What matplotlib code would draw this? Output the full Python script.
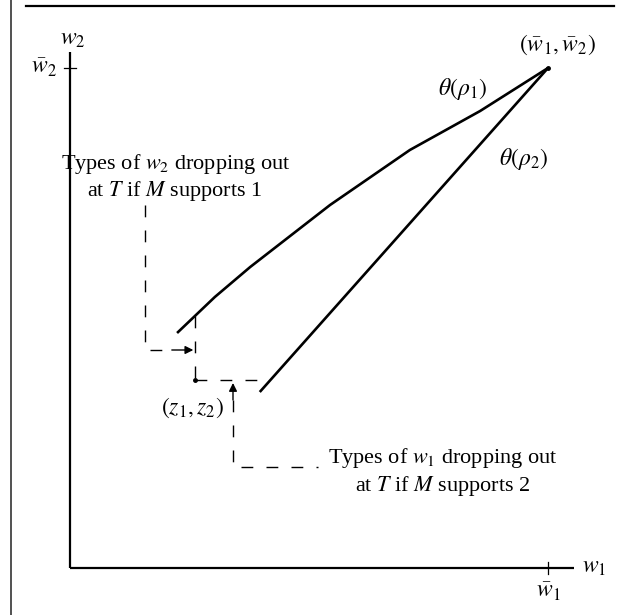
import matplotlib
matplotlib.use("Agg")
import matplotlib.pyplot as plt
from matplotlib.lines import Line2D

plt.rcParams['font.family'] = ['Liberation Serif', 'DejaVu Serif']
plt.rcParams['mathtext.fontset'] = 'stix'

# diagram in units where (w1_bar, w2_bar) = (1, 1)
w1_bar = 1.0
w2_bar = 1.0

rho1_w1 = [0.224, 0.303, 0.377, 0.544, 0.711, 0.858, 1.0]
rho1_w2 = [0.470, 0.542, 0.602, 0.726, 0.836, 0.914, 1.0]

# theta(rho_2): straight boundary
rho2_w1 = [0.397, 1.0]
rho2_w2 = [0.352, 1.0]

# (z1, z2) corner
z1, z2 = 0.262, 0.376
z1_top = 0.505      # where w1 = z1 meets theta(rho_1)
z2_right = 0.419    # where w2 = z2 meets theta(rho_2)

# callout brackets
bracket1_w1 = [0.157, 0.157, 0.213]
bracket1_w2 = [0.726, 0.436, 0.436]
bracket2_w1 = [0.341, 0.341, 0.519]
bracket2_w2 = [0.336, 0.202, 0.202]

fig = plt.figure(figsize=(6.26, 6.15), dpi=100)
ax = fig.add_axes([0, 0, 1, 1])
ax.set_xlim(-70 / 478, 556 / 478)
ax.set_ylim(-47 / 500, 568 / 500)
ax.axis('off')

# page rules
fig.add_artist(Line2D([11 / 626, 11 / 626], [0, 1], color='#333333', lw=1.2))
fig.add_artist(Line2D([26 / 626, 614 / 626], [1 - 6 / 615, 1 - 6 / 615], color='black', lw=1.6))

# axes
ax.plot([0, 1.055], [0, 0], color='black', lw=1.6, solid_capstyle='butt')
ax.plot([0, 0], [0, 1.032], color='black', lw=1.6, solid_capstyle='butt')
ax.plot([w1_bar, w1_bar], [-0.012, 0.012], color='black', lw=0.9)
ax.plot([-0.012, 0.012], [w2_bar, w2_bar], color='black', lw=0.9)

fs = 16
ax.text(1.072, 0.0, r'$w_1$', fontsize=fs + 1, ha='left', va='center')
ax.text(w1_bar, -0.047, r'$\bar{w}_1$', fontsize=fs + 1, ha='center', va='center')
ax.text(0.005, 1.057, r'$w_2$', fontsize=fs + 1, ha='center', va='center')
ax.text(-0.028, w2_bar, r'$\bar{w}_2$', fontsize=fs + 1, ha='right', va='center')

# boundaries
ax.plot(rho1_w1, rho1_w2, color='black', lw=1.9, solid_capstyle='butt')
ax.plot(rho2_w1, rho2_w2, color='black', lw=1.9, solid_capstyle='butt')
ax.plot([w1_bar], [w2_bar], 'o', color='black', ms=2.5)

ax.text(1.02, 1.047, r'$(\bar{w}_1, \bar{w}_2)$', fontsize=fs + 1, ha='center', va='center')
ax.text(0.822, 0.958, r'$\theta(\rho_1)$', fontsize=fs + 1, ha='center', va='center')
ax.text(0.948, 0.818, r'$\theta(\rho_2)$', fontsize=fs + 1, ha='center', va='center')

# dashed corner at (z1, z2)
dash = dict(color='black', lw=1.0, linestyle=(0, (8.5, 9.5)))
ax.plot([z1, z1], [z1_top, z2], **dash)
ax.plot([z1, z2_right], [z2, z2], **dash)
ax.plot([z1], [z2], 'o', color='black', ms=2.5)
ax.text(z1 - 0.005, z2 - 0.056, r'$(z_1, z_2)$', fontsize=fs + 1, ha='center', va='center')

# callouts
ax.plot(bracket1_w1, bracket1_w2, **dash)
ax.plot(bracket2_w1, bracket2_w2, **dash)
ax.annotate('', xy=(z1 - 0.004, bracket1_w2[-1]), xytext=(bracket1_w1[-1], bracket1_w2[-1]),
            arrowprops=dict(arrowstyle='-|>', color='black', lw=1.0, mutation_scale=12,
                            shrinkA=0, shrinkB=0))
ax.annotate('', xy=(bracket2_w1[0], z2 - 0.006), xytext=(bracket2_w1[0], bracket2_w2[0]),
            arrowprops=dict(arrowstyle='-|>', color='black', lw=1.0, mutation_scale=12,
                            shrinkA=0, shrinkB=0))

ax.text(0.220, 0.781, 'Types of $w_2$ dropping out\nat $T$ if $M$ supports 1',
        fontsize=fs, ha='center', va='center', linespacing=1.2)
ax.text(0.780, 0.192, 'Types of $w_1$ dropping out\nat $T$ if $M$ supports 2',
        fontsize=fs, ha='center', va='center', linespacing=1.2)

fig.savefig('out.png', dpi=100)
